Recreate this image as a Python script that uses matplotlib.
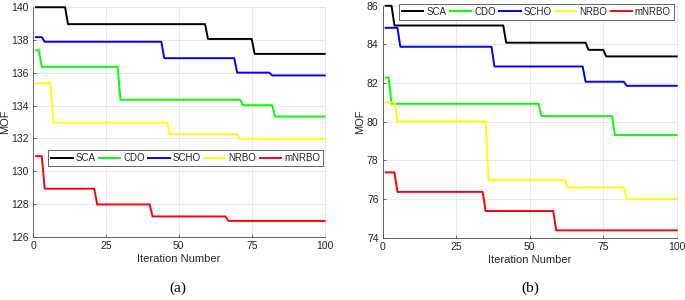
import matplotlib
matplotlib.use("Agg")
import matplotlib.pyplot as plt

plt.rcParams['font.family'] = ['Liberation Sans', 'DejaVu Sans']

names = ["SCA", "CDO", "SCHO", "NRBO", "mNRBO"]
colors = ["#000000", "#00ff00", "#0000ff", "#ffff00", "#ff0000"]

# Panel (a): breakpoints (iteration, MOF)
a_sca_x = [1, 11, 12, 59, 60, 75, 76, 100]
a_sca_y = [139.98, 139.98, 138.95, 138.95, 138.05, 138.05, 137.14, 137.14]
a_cdo_x = [1, 2, 3, 29, 30, 71, 72, 82, 83, 100]
a_cdo_y = [137.36, 137.36, 136.35, 136.35, 134.35, 134.35, 134.02, 134.02, 133.33, 133.33]
a_scho_x = [1, 3, 4, 44, 45, 69, 70, 81, 82, 100]
a_scho_y = [138.16, 138.16, 137.88, 137.88, 136.88, 136.88, 136.0, 136.0, 135.83, 135.83]
a_nrbo_x = [1, 6, 7, 46, 47, 70, 71, 100]
a_nrbo_y = [135.35, 135.35, 132.96, 132.96, 132.25, 132.25, 131.98, 131.98]
a_mnrbo_x = [1, 3, 4, 21, 22, 40, 41, 66, 67, 100]
a_mnrbo_y = [130.92, 130.92, 128.94, 128.94, 127.98, 127.98, 127.25, 127.25, 126.98, 126.98]

# Panel (b)
b_sca_x = [1, 3, 4, 41, 42, 69, 70, 75, 76, 100]
b_sca_y = [86.0, 86.0, 84.98, 84.98, 84.09, 84.09, 83.72, 83.72, 83.38, 83.38]
b_cdo_x = [1, 2, 3, 53, 54, 78, 79, 100]
b_cdo_y = [82.29, 82.29, 80.93, 80.93, 80.29, 80.29, 79.31, 79.31]
b_scho_x = [1, 5, 6, 37, 38, 68, 69, 82, 83, 100]
b_scho_y = [84.86, 84.86, 83.88, 83.88, 82.86, 82.86, 82.07, 82.07, 81.86, 81.86]
b_nrbo_x = [1, 4, 5, 35, 36, 62, 63, 82, 83, 100]
b_nrbo_y = [81.0, 81.0, 80.02, 80.02, 76.98, 76.98, 76.59, 76.59, 76.0, 76.0]
b_mnrbo_x = [1, 4, 5, 34, 35, 58, 59, 100]
b_mnrbo_y = [77.38, 77.38, 76.37, 76.37, 75.38, 75.38, 74.38, 74.38]

xticks = [0, 25, 50, 75, 100]
a_yticks = [126, 128, 130, 132, 134, 136, 138, 140]
b_yticks = [74, 76, 78, 80, 82, 84, 86]

fig = plt.figure(figsize=(6.85, 3.0), dpi=100)
axA = fig.add_axes([0.0482, 0.21, 0.4257, 0.767])
axB = fig.add_axes([0.5587, 0.2077, 0.4292, 0.773])

panels = [
    (axA, [(a_sca_x, a_sca_y), (a_cdo_x, a_cdo_y), (a_scho_x, a_scho_y),
           (a_nrbo_x, a_nrbo_y), (a_mnrbo_x, a_mnrbo_y)], a_yticks, (0.523, 0.342), "(a)"),
    (axB, [(b_sca_x, b_sca_y), (b_cdo_x, b_cdo_y), (b_scho_x, b_scho_y),
           (b_nrbo_x, b_nrbo_y), (b_mnrbo_x, b_mnrbo_y)], b_yticks, (0.523, 0.975), "(b)"),
]

for ax, series, yt, legpos, lab in panels:
    for (x, y), n, c in zip(series, names, colors):
        ax.plot(x, y, color=c, lw=1.4, label=n, clip_on=False, zorder=3)
    ax.set_xlim(0, 100)
    ax.set_ylim(yt[0], yt[-1])
    ax.set_xticks(xticks)
    ax.set_yticks(yt)
    ax.grid(True, color="#e6e6e6", lw=0.6)
    ax.set_axisbelow(True)
    for s in ["top", "right"]:
        ax.spines[s].set_color("#e6e6e6")
        ax.spines[s].set_linewidth(0.6)
        ax.spines[s].set_zorder(1)
    for s in ["left", "bottom"]:
        ax.spines[s].set_color("#4d4d4d")
        ax.spines[s].set_linewidth(0.6)
    ax.tick_params(direction="in", length=2.5, width=0.6, color="#4d4d4d",
                   labelsize=7.5, labelcolor="#262626", pad=3)
    ax.set_xlabel("Iteration Number", fontsize=8, color="#262626", labelpad=2)
    ax.set_ylabel("MOF", fontsize=8, color="#262626", labelpad=1)
    leg = ax.legend(loc="center", bbox_to_anchor=legpos, ncol=5, fontsize=7,
                    handlelength=2.2, handletextpad=0.3, columnspacing=0.35,
                    borderpad=0.3, fancybox=False, framealpha=1,
                    edgecolor="#4d4d4d", borderaxespad=0)
    leg.set_zorder(5)
    leg.get_frame().set_linewidth(0.6)
    for t in leg.get_texts():
        t.set_color("#262626")

fig.text(178 / 685, 1 - 288 / 300, "(a)", ha="center", va="center",
         fontsize=11, family=["Liberation Serif", "DejaVu Serif"])
fig.text(530 / 685, 1 - 288 / 300, "(b)", ha="center", va="center",
         fontsize=11, family=["Liberation Serif", "DejaVu Serif"])

fig.savefig("out.png", dpi=100)
